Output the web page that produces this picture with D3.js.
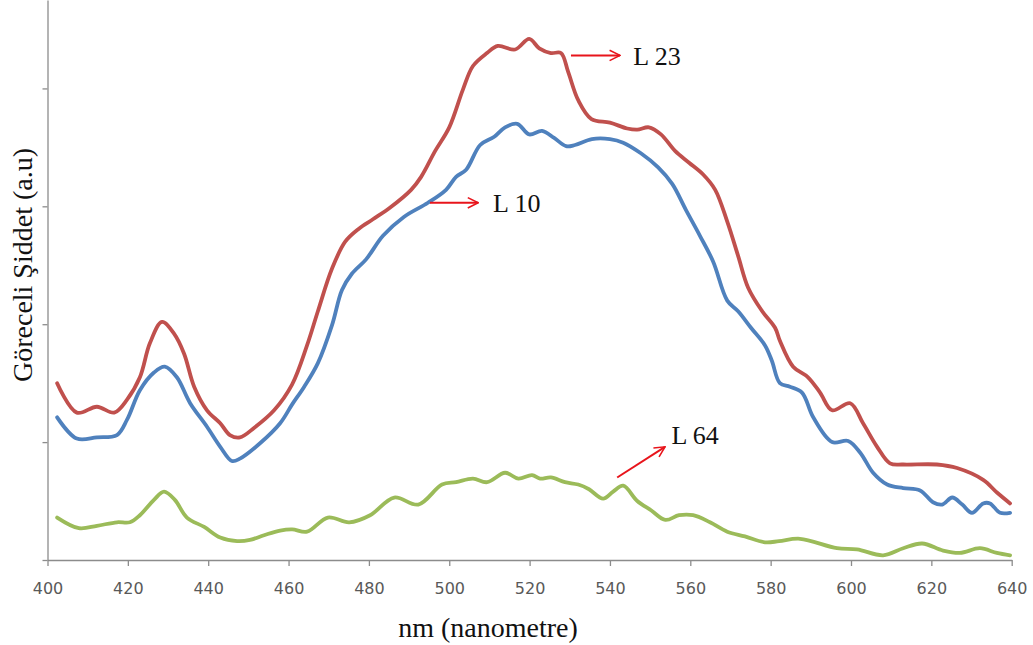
<!DOCTYPE html>
<html>
<head>
<meta charset="utf-8">
<script src="https://cdn.jsdelivr.net/npm/d3@7"></script>
<style>
  html, body { margin: 0; padding: 0; background: #fff; }
  #chart { width: 1033px; height: 645px; }
  .axis path, .axis line { stroke: #8c8c8c; stroke-width: 1.3; }
  .axis text { font-family: "DejaVu Sans", sans-serif; font-size: 16px; fill: #595959; }
  .title { font-family: "Liberation Serif", "Times New Roman", serif; font-size: 28px; fill: #111; }
  .note { font-family: "Liberation Serif", "Times New Roman", serif; font-size: 26px; fill: #111; }
</style>
</head>
<body>
<div id="chart"></div>
<script>
// wavelength ticks
const xTicks = [400, 420, 440, 460, 480, 500, 520, 540, 560, 580, 600, 620, 640];

// L 23 (red)
const l23Nm = [402.4, 407.3, 412.3, 416.6, 419.8, 423, 425.5, 428.5, 431.5, 434, 436.5, 439.7, 443, 445.4, 447.9,
  451.4, 456.4, 460.9, 464.6, 467.3, 470.8, 474.1, 477.5, 481, 485.3, 490.5, 493, 496.5, 500, 503.4, 505.9,
  509.4, 512.1, 516.4, 519.9, 522.4, 525.3, 527.8, 529.6, 532.1, 535.4, 540, 544.3, 546.8, 549.7, 552.7,
  556.2, 559.7, 563.2, 566.2, 569.2, 571.9, 574.4, 577.9, 581.1, 582.3, 585.6, 589.3, 592.3, 595.3, 599.8,
  603, 606.5, 609.7, 613, 621.4, 626.4, 632.9, 636.4, 639.6];
const l23 = [1.50, 1.25, 1.30, 1.25, 1.36, 1.55, 1.84, 2.02, 1.92, 1.75, 1.47, 1.27, 1.16, 1.06, 1.04,
  1.12, 1.27, 1.49, 1.82, 2.11, 2.47, 2.70, 2.81, 2.89, 2.99, 3.14, 3.25, 3.47, 3.67, 3.99, 4.19,
  4.30, 4.36, 4.33, 4.42, 4.34, 4.30, 4.30, 4.14, 3.90, 3.74, 3.71, 3.66, 3.65, 3.67, 3.61,
  3.47, 3.37, 3.27, 3.14, 2.87, 2.58, 2.31, 2.11, 1.97, 1.86, 1.64, 1.55, 1.42, 1.27, 1.33,
  1.16, 0.96, 0.82, 0.81, 0.81, 0.78, 0.68, 0.57, 0.48];

// L 10 (blue)
const l10Nm = [402.4, 407.3, 412.3, 417.3, 419.8, 423, 426.5, 429.2, 432.2, 435.5, 439.7, 443, 445.9, 447.9,
  452.9, 457.9, 460.9, 463.9, 467.3, 470.8, 473.3, 475.8, 479.3, 483.5, 488.7, 494.7, 499.2, 501.7, 504.2,
  507.7, 511.2, 513.9, 516.9, 519.9, 523.1, 526.1, 529.1, 531.3, 535.5, 540, 543.3, 547.7, 552, 555.5,
  558.9, 562.4, 565.7, 569.2, 571.9, 575.1, 578.6, 580.3, 582.3, 584.8, 587.8, 590.6, 595.3, 599.3, 602.3,
  605.5, 609, 613, 617.2, 620.4, 622.7, 625.2, 627.7, 630.1, 632.9, 634.6, 637.1, 639.6];
const l10 = [1.21, 1.03, 1.04, 1.06, 1.19, 1.44, 1.59, 1.64, 1.55, 1.33, 1.13, 0.96, 0.84, 0.86,
  0.99, 1.16, 1.32, 1.47, 1.67, 1.99, 2.29, 2.43, 2.55, 2.75, 2.91, 3.03, 3.14, 3.25, 3.31,
  3.52, 3.59, 3.67, 3.70, 3.61, 3.64, 3.58, 3.51, 3.52, 3.57, 3.57, 3.54, 3.45, 3.33, 3.19,
  2.97, 2.75, 2.53, 2.20, 2.11, 1.97, 1.82, 1.69, 1.50, 1.47, 1.42, 1.21, 1.00, 1.01, 0.91,
  0.74, 0.64, 0.61, 0.59, 0.49, 0.47, 0.53, 0.47, 0.40, 0.48, 0.48, 0.40, 0.40];

// L 64 (green)
const l64Nm = [402.4, 407.8, 412.3, 417.3, 420.5, 423, 426.5, 429, 431.7, 434.7, 439, 443, 447.2, 450.4,
  453.9, 457.9, 460.9, 464.6, 469.8, 475.1, 480.3, 486.3, 492.3, 498.2, 501.7, 505.9, 509.4, 513.9, 517.2,
  520.6, 522.6, 525.3, 528.8, 532.1, 534.8, 538.3, 540.8, 543.3, 546.8, 550.3, 553.8, 557.2, 560.7, 564.9,
  569.2, 573.6, 578.6, 582.1, 587.3, 596.5, 601.5, 608, 613, 617.7, 622.9, 627.1, 632.1, 636.3, 639.6];
const l64 = [0.36, 0.27, 0.29, 0.32, 0.32, 0.38, 0.51, 0.58, 0.51, 0.36, 0.28, 0.19, 0.16, 0.17,
  0.21, 0.25, 0.26, 0.24, 0.36, 0.32, 0.38, 0.53, 0.47, 0.64, 0.66, 0.69, 0.66, 0.74, 0.69,
  0.72, 0.69, 0.70, 0.66, 0.64, 0.60, 0.52, 0.58, 0.63, 0.50, 0.42, 0.34, 0.38, 0.38, 0.32,
  0.24, 0.20, 0.15, 0.16, 0.18, 0.10, 0.09, 0.04, 0.10, 0.14, 0.08, 0.06, 0.10, 0.06, 0.04];

const series = [
  { name: "L 64", nm: l64Nm, val: l64, color: "#9bbb59" },
  { name: "L 10", nm: l10Nm, val: l10, color: "#4f81bd" },
  { name: "L 23", nm: l23Nm, val: l23, color: "#c0504d" }
];

// labels with arrows, placed in data units
const notes = [
  { text: "L 23", from: [530.3, 4.28], to: [542.5, 4.28], at: [545.8, 4.28] },
  { text: "L 10", from: [495.2, 3.03], to: [507.2, 3.03], at: [510.9, 3.03] },
  { text: "L 64", from: [541.8, 0.70], to: [553.7, 0.96], at: [555.3, 1.06] }
];

const width = 1033, height = 645;
const margin = { left: 47.5, right: 21.3, top: 0, bottom: 85 };

const svg = d3.select("#chart").append("svg")
  .attr("width", width)
  .attr("height", height);

const x = d3.scaleLinear().domain([400, 640]).range([margin.left, width - margin.right]);
const y = d3.scaleLinear().domain([0, 4.75]).range([height - margin.bottom, margin.top]);

// axes
svg.append("g")
  .attr("class", "axis")
  .attr("transform", `translate(0,${height - margin.bottom})`)
  .call(d3.axisBottom(x).tickValues(xTicks).tickSize(6).tickSizeOuter(0).tickPadding(17))
  .call(g => g.selectAll("text").attr("font-size", null));

svg.append("g")
  .attr("class", "axis")
  .attr("transform", `translate(${margin.left},0)`)
  .call(d3.axisLeft(y).tickValues([0, 1, 2, 3, 4]).tickFormat("").tickSize(5).tickSizeOuter(0));

// lines
const line = d3.line()
  .x(d => x(d[0]))
  .y(d => y(d[1]))
  .curve(d3.curveCatmullRom.alpha(0.5));

svg.append("g").selectAll("path")
  .data(series)
  .join("path")
  .attr("fill", "none")
  .attr("stroke", d => d.color)
  .attr("stroke-width", 3.8)
  .attr("stroke-linejoin", "round")
  .attr("stroke-linecap", "round")
  .attr("d", d => line(d3.zip(d.nm, d.val)));

// arrow marker
svg.append("defs").append("marker")
  .attr("id", "arr")
  .attr("viewBox", "0 0 10 10")
  .attr("refX", 9).attr("refY", 5)
  .attr("markerWidth", 6.5).attr("markerHeight", 6.5)
  .attr("markerUnits", "strokeWidth")
  .attr("orient", "auto")
  .append("path")
  .attr("d", "M1,1 L9,5 L1,9")
  .attr("fill", "none")
  .attr("stroke", "#e8141b")
  .attr("stroke-width", 1.2);

const ann = svg.append("g");
ann.selectAll("line")
  .data(notes)
  .join("line")
  .attr("x1", d => x(d.from[0])).attr("y1", d => y(d.from[1]))
  .attr("x2", d => x(d.to[0])).attr("y2", d => y(d.to[1]))
  .attr("stroke", "#e8141b")
  .attr("stroke-width", 2)
  .attr("marker-end", "url(#arr)");

ann.selectAll("text")
  .data(notes)
  .join("text")
  .attr("class", "note")
  .attr("x", d => x(d.at[0]))
  .attr("y", d => y(d.at[1]))
  .attr("dy", "0.35em")
  .text(d => d.text);

// axis titles
svg.append("text")
  .attr("class", "title")
  .attr("text-anchor", "middle")
  .attr("x", 488)
  .attr("y", 637)
  .text("nm (nanometre)");

svg.append("text")
  .attr("class", "title")
  .attr("text-anchor", "middle")
  .attr("transform", "translate(22,265) rotate(-90)")
  .attr("dy", "0.35em")
  .text("Göreceli Şiddet (a.u)");
</script>
</body>
</html>
